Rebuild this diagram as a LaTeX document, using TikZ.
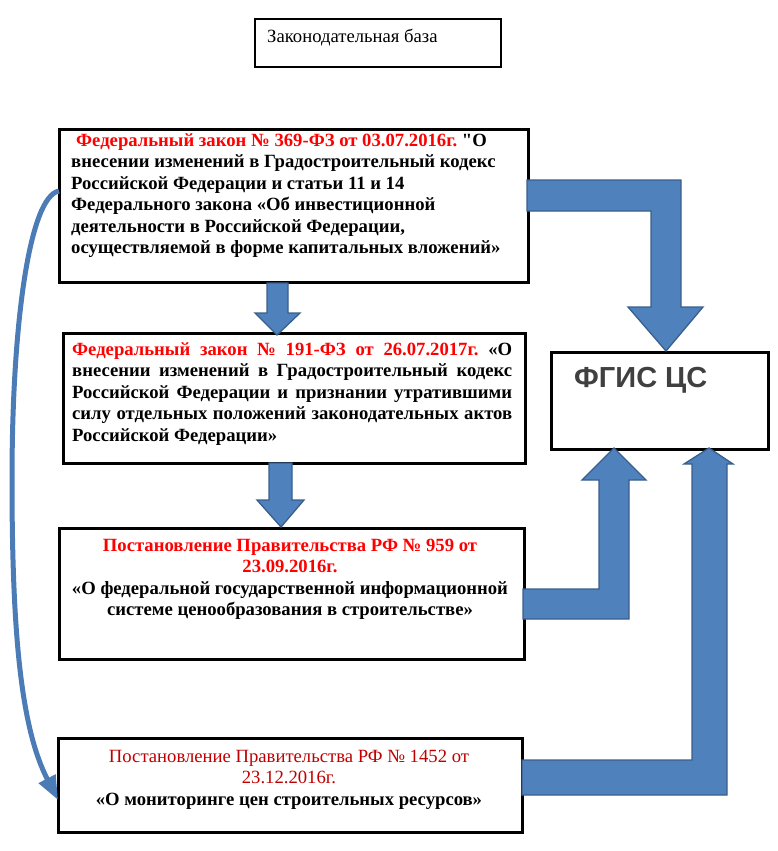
\documentclass[tikz,border=0pt]{standalone}
\usepackage{fontspec}
\setmainfont{Liberation Serif}
\newfontfamily\qfont{Liberation Serif}
\newfontfamily\sansb{Liberation Sans}
\usetikzlibrary{arrows.meta}
\definecolor{blfill}{HTML}{4F81BD}
\definecolor{bldraw}{HTML}{3A5F8B}
\definecolor{lawred}{HTML}{FF0000}
\definecolor{darkred}{HTML}{C00000}
\definecolor{fgisgray}{HTML}{404040}
\tikzset{
  lawbox/.style={draw=black, line width=2.6pt, fill=white, inner sep=0pt, anchor=north west},
  titlebox/.style={draw=black, line width=2pt, fill=white, inner sep=0pt, anchor=north west},
  blockarrow/.style={fill=blfill, draw=bldraw, line width=1.3pt, line join=miter},
  txt/.style={inner sep=0pt, font=\fontsize{18.67}{21.5}\selectfont},
  curvearrow/.style={draw=blfill!85!bldraw, line width=5pt, -{Triangle[length=24pt,width=18pt]}}
}
\begin{document}
\frenchspacing
\begin{tikzpicture}[x=1pt,y=-1pt]
\useasboundingbox (0,0) rectangle (777,851);
% boxes
\node[titlebox, minimum width=246pt, minimum height=48pt] (t0) at (254,18) {};
\node[lawbox, minimum width=469pt, minimum height=153pt] (b1) at (58,128) {};
\node[lawbox, minimum width=462pt, minimum height=130pt] (b2) at (62,332) {};
\node[lawbox, minimum width=465pt, minimum height=131pt] (b3) at (58,527) {};
\node[lawbox, minimum width=464pt, minimum height=94pt] (b4) at (57,737) {};
\node[lawbox, minimum width=217pt, minimum height=97pt] (fg) at (550,351) {};

% texts
\node[txt, anchor=base west] (tt0) at (267,43) {Законодательная база};
\node[txt, anchor=base west] (tt1) at (71,146) {\parbox[t]{470pt}{\bfseries\raggedright\frenchspacing
\hspace*{5pt}\textcolor{lawred}{Федеральный закон № 369-ФЗ от 03.07.2016г.} {\qfont\bfseries "}О\\
внесении изменений в Градостроительный кодекс\\
Российской Федерации и статьи 11 и 14\\
Федерального закона «Об инвестиционной\\
деятельности в Российской Федерации,\\
осуществляемой в форме капитальных вложений»}};
\node[txt, anchor=base west] (tt2) at (72,355) {\parbox[t]{440pt}{\bfseries\raggedright\frenchspacing
\makebox[440pt][s]{\textcolor{lawred}{Федеральный закон № 191-ФЗ от 26.07.2017г.} «О}\\
\makebox[440pt][s]{внесении изменений в Градостроительный кодекс}\\
\makebox[440pt][s]{Российской Федерации и признании утратившими}\\
\makebox[440pt][s]{силу отдельных положений законодательных актов}\\
Российской Федерации»}};
\node[txt, anchor=base] (tt3) at (290,551) {\parbox[t]{470pt}{\bfseries\centering
\textcolor{lawred}{Постановление Правительства РФ № 959 от}\\
\textcolor{lawred}{23.09.2016г.}\\
«О федеральной государственной информационной\\
системе ценообразования в строительстве»}};
\node[txt, anchor=base] (tt4) at (289,762) {\parbox[t]{470pt}{\centering
\textcolor{darkred}{Постановление Правительства РФ № 1452 от}\\
\textcolor{darkred}{23.12.2016г.}\\
\textbf{«О мониторинге цен строительных ресурсов»}}};
\node[inner sep=0pt, anchor=base west, text=fgisgray, font=\sansb\bfseries\fontsize{29}{33}\selectfont] (tfg) at (574,387) {ФГИС ЦС};

% small down arrows
\draw[blockarrow] (267,283) -- (288,283) -- (288,313) -- (300,313) -- (277,335) -- (255,313) -- (267,313) -- cycle;
\draw[blockarrow] (269,463) -- (292,463) -- (292,500) -- (304,500) -- (281,527) -- (257,500) -- (269,500) -- cycle;

% bent arrow b1 -> fgis
\draw[blockarrow] (527,180) -- (681,180) -- (681,307) -- (703,307) -- (666,351) -- (628,307) -- (651,307) -- (651,211) -- (527,211) -- cycle;
% bent arrow b3 -> fgis
\draw[blockarrow] (523,589) -- (599,589) -- (599,480) -- (582,480) -- (614,448) -- (646,480) -- (629,480) -- (629,619) -- (523,619) -- cycle;
% bent arrow b4 -> fgis
\draw[blockarrow] (522,760) -- (692,760) -- (692,464) -- (684,464) -- (709,448) -- (733,464) -- (727,464) -- (727,795) -- (522,795) -- cycle;

% curved arrow b1 -> b4
\coordinate (cs) at (59,191);
\coordinate (ce) at (58,800);
\draw[curvearrow] (cs) .. controls (30,196) and (12,320) .. (12,480) .. controls (12,640) and (22,730) .. (ce);
\end{tikzpicture}
\end{document}
